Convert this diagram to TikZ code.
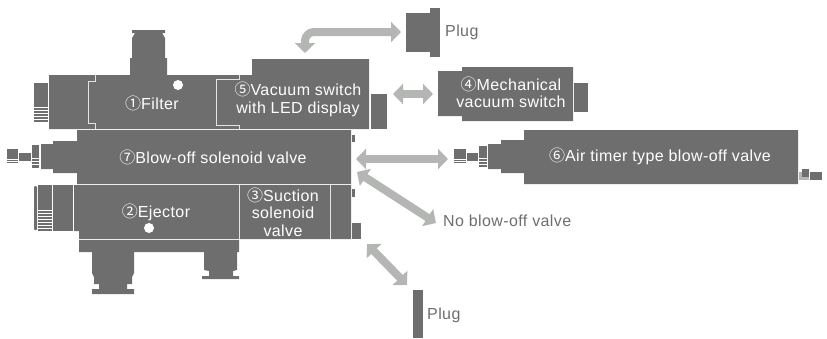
\documentclass[tikz,border=0pt]{standalone}
\usepackage{fontspec}
\usetikzlibrary{arrows.meta}
\setmainfont[LetterSpace=2.5]{Liberation Sans}
\newfontfamily\numfont{Noto Sans CJK JP}
\definecolor{bodygray}{HTML}{6E6E6E}
\definecolor{arrowgray}{HTML}{B4B6B4}
\definecolor{seamgray}{HTML}{E4E4E4}
\tikzset{
    body/.style={fill=bodygray, draw=none},
    seam/.style={draw=seamgray, line width=0.8pt},
    stripe/.style={draw=white, line width=0.6pt},
    bigarrow/.style={draw=arrowgray, line width=8pt, {Triangle[width=20pt,length=10pt]}-{Triangle[width=20pt,length=10pt]}},
    inlabel/.style={text=white, font=\fontsize{16}{17.5}\selectfont, align=center, inner sep=0pt},
    outlabel/.style={text=bodygray, font=\fontsize{16}{17.5}\selectfont, anchor=west, inner sep=0pt}
}
\begin{document}
\begin{tikzpicture}[x=1pt, y=-1pt]
    \useasboundingbox (0,0) rectangle (827,338);

    % filter and switch
    \fill[body] (49,75) -- (130,75) -- (130,58) -- (132,58) -- (132,38) -- (135,33) -- (132,33) -- (132,30) -- (165,30) -- (165,33) -- (162,33) -- (165,38) -- (165,58) -- (167,58) -- (167,75) -- (252,75) -- (252,59) -- (369,59) -- (369,129) -- (49,129) -- cycle;
    \fill[body] (371,94) rectangle (387,129);
    \fill[body] (34,83) rectangle (48,122);
    \foreach \y in {107,110,...,122} {\draw[stripe] (34,\y) -- (48,\y);}
    \draw[seam] (95,75) -- (95,81) -- (88,81) -- (88,123) -- (95,123) -- (95,129);
    \draw[seam] (239,75) -- (239,79) -- (216,79) -- (216,125) -- (239,125) -- (239,129);
    \fill[white] (178,85) circle (5);

    % blow-off valve
    \fill[body] (77,130) -- (351,130) -- (351,184) -- (77,184) -- (77,173) -- (53,173) -- (53,169) -- (41,169) -- (41,144) -- (53,144) -- (53,141) -- (77,141) -- cycle;
    \fill[body] (32,145) rectangle (39,168);
    \fill[body] (19,153) rectangle (31,161);
    \fill[body] (7,149) rectangle (18,164);
    \foreach \y in {159,161,163} {\draw[stripe] (7,\y) -- (18,\y);}
    \foreach \y in {158,161,164} {\draw[stripe] (32,\y) -- (39,\y);}
    \fill[body] (352,135) rectangle (355,142);

    % ejector and suction valve
    \fill[body] (74,185) -- (351,185) -- (351,239) -- (79,239) -- (79,231) -- (74,231) -- cycle;
    \fill[body] (53,185) rectangle (73,231);
    \fill[body] (38,185) rectangle (52,231);
    \fill[body, rounded corners=1pt] (34,186) rectangle (37,230);
    \foreach \y in {210,213,...,231} {\draw[stripe] (38,\y) -- (52,\y);}
    \draw[seam] (239,185) -- (239,239);
    \draw[seam] (330,185) -- (330,239);
    \fill[white] (149,228) circle (5);
    \fill[body] (352,189) rectangle (355,197);
    \fill[body] (352,223) rectangle (361,239);

    % feet
    \fill[body] (79,240) -- (239,240) -- (239,252) -- (237,252) -- (237,270) -- (233,271) -- (233,276) -- (239,276) -- (239,279) -- (202,279) -- (202,276) -- (209,276) -- (209,271) -- (204,270) -- (204,252) -- (134,252) -- (134,273) -- (132,277) -- (132,284) -- (127,284) -- (127,289) -- (134,289) -- (134,294) -- (92,294) -- (92,289) -- (99,289) -- (99,284) -- (94,284) -- (94,277) -- (92,273) -- (92,252) -- (79,252) -- cycle;

    % plugs
    \fill[body] (406,13) rectangle (430,52);
    \fill[body] (430,8) rectangle (440,57);
    \fill[body] (413,290) rectangle (423,338);

    % mechanical switch
    \fill[body] (438,71) -- (462,71) -- (462,67) -- (573,67) -- (573,121) -- (462,121) -- (462,116) -- (438,116) -- cycle;
    \fill[body] (574,83) rectangle (588,112);

    % air timer valve
    \fill[body] (524,130) -- (798,130) -- (798,184) -- (524,184) -- (524,173) -- (501,173) -- (501,169) -- (488,169) -- (488,144) -- (501,144) -- (501,140) -- (524,140) -- cycle;
    \fill[body] (479,146) rectangle (487,167);
    \fill[body] (467,153) rectangle (478,161);
    \fill[body] (454,149) rectangle (466,164);
    \foreach \y in {159,161,163} {\draw[stripe] (454,\y) -- (466,\y);}
    \foreach \y in {158,161,164} {\draw[stripe] (479,\y) -- (487,\y);}
    \fill[arrowgray] (799,172) rectangle (802,180);
    \fill[body] (802,169) rectangle (809,177);
    \fill[arrowgray] (802,177) rectangle (809,180);
    \fill[body] (810,172) rectangle (822,180);

    % labels
    \node[inlabel] (filter) at (152,103) {{\numfont ①}Filter};
    \node[inlabel] (vacuum) at (298,99.5) {{\numfont ⑤}Vacuum switch\\with LED display};
    \node[inlabel] (blowoff) at (213,157) {{\numfont ⑦}Blow-off solenoid valve};
    \node[inlabel] (ejector) at (156,212) {{\numfont ②}Ejector};
    \node[inlabel] (suction) at (283,212) {{\numfont ③}Suction\\solenoid\\valve};
    \node[inlabel] (mech) at (511,92.5) {{\numfont ④}Mechanical\\vacuum switch};
    \node[inlabel] (timer) at (660,156) {{\numfont ⑥}Air timer type blow-off valve};
    \node[outlabel] (plugtop) at (445,32) {Plug};
    \node[outlabel] (noblow) at (443,221) {No blow-off valve};
    \node[outlabel] (plugbot) at (427,315) {Plug};

    % arrow ends
    \coordinate (a1) at (305,53);
    \coordinate (a2) at (401,32);
    \coordinate (b1) at (393,94);
    \coordinate (b2) at (433,94);
    \coordinate (c1) at (356,159);
    \coordinate (c2) at (448,159);
    \coordinate (d1) at (357,172);
    \coordinate (d2) at (436,223);
    \coordinate (e1) at (367,244);
    \coordinate (e2) at (407,285);

    \draw[bigarrow, rounded corners=9pt] (a1) |- (a2);
    \draw[bigarrow] (b1) -- (b2);
    \draw[bigarrow] (c1) -- (c2);
    \draw[bigarrow] (d1) -- (d2);
    \draw[bigarrow] (e1) -- (e2);
\end{tikzpicture}
\end{document}
